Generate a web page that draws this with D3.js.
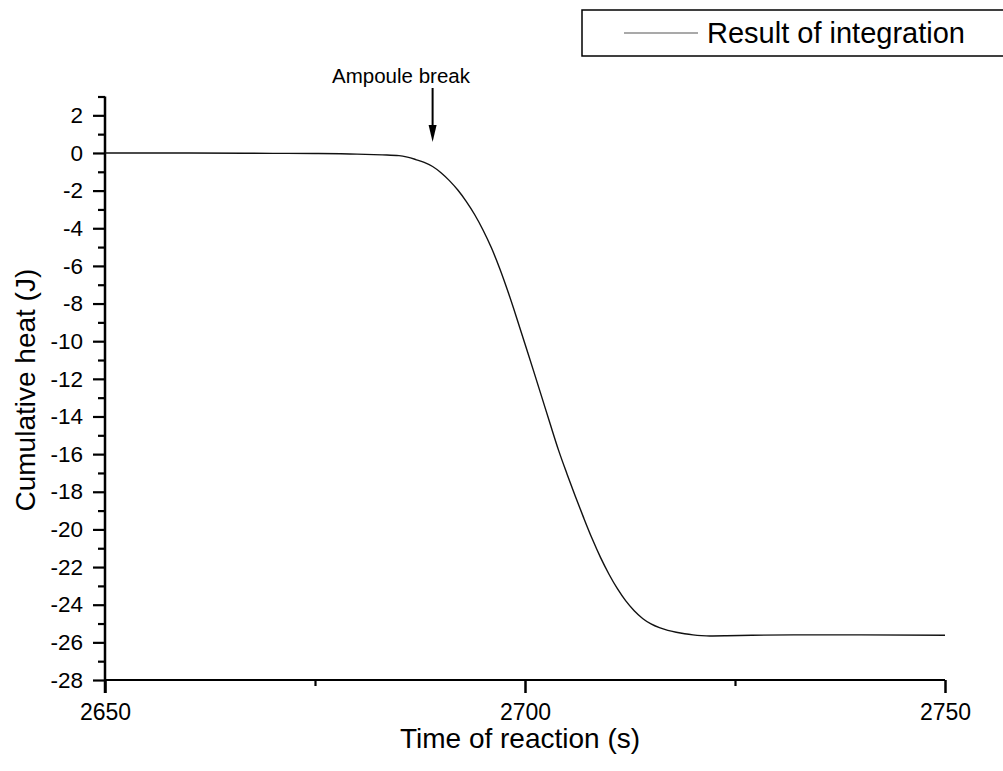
<!DOCTYPE html>
<html>
<head>
<meta charset="utf-8">
<script src="https://cdn.jsdelivr.net/npm/d3@7"></script>
<style>
  html, body { margin: 0; padding: 0; background: #fff; }
  svg { display: block; }
  svg text { font-family: "Liberation Sans", Arial, sans-serif; }
</style>
</head>
<body>
<svg id="chart" width="1003" height="771"></svg>
<script>
(() => {
  // cumulative heat (time in s, heat in J)
  const times = [2650, 2660, 2670, 2675, 2680, 2683, 2685, 2686, 2687, 2688, 2689, 2690,
    2691, 2692, 2693, 2694, 2695, 2696, 2697, 2698, 2699, 2700, 2701, 2702, 2703, 2704,
    2705, 2706, 2707, 2708, 2709, 2710, 2711, 2712, 2713, 2714, 2715, 2716, 2717, 2718,
    2719, 2720, 2721, 2722, 2724, 2727, 2732, 2740, 2750];
  const heat = [0, 0, -0.02, -0.03, -0.06, -0.1, -0.14, -0.22, -0.35, -0.5, -0.72, -1.05,
    -1.47, -1.97, -2.57, -3.27, -4.09, -5.04, -6.15, -7.4, -8.75, -10.15, -11.55, -12.97, -14.4, -15.8,
    -17.05, -18.25, -19.4, -20.5, -21.5, -22.38, -23.15, -23.8, -24.32, -24.73, -25.02, -25.22, -25.36, -25.46,
    -25.54, -25.6, -25.64, -25.66, -25.65, -25.62, -25.6, -25.6, -25.62];

  const xMajor = [2650, 2700, 2750];
  const xMinor = [2675, 2725];
  const yMajor = d3.range(-28, 3, 2);
  const yMinor = d3.range(-27, 4, 2);
  const breakTime = 2689;

  const svg = d3.select("#chart");

  const x = d3.scaleLinear().domain([2650, 2750]).range([105, 945]);
  const y = d3.scaleLinear().domain([-28, 3]).range([680, 96.5]);

  const fmt = d => String(d);
  const font = '"Liberation Sans", Arial, sans-serif';

  // x axis
  svg.append("g")
    .attr("transform", "translate(0,680)")
    .call(d3.axisBottom(x).tickValues(xMinor).tickSize(6).tickSizeOuter(0).tickFormat(""))
    .call(g => g.select(".domain").remove())
    .call(g => g.selectAll("line").attr("stroke", "#000").attr("stroke-width", 2.2));

  svg.append("g")
    .attr("transform", "translate(0,680)")
    .call(d3.axisBottom(x).tickValues(xMajor).tickSize(13).tickSizeOuter(0).tickPadding(11).tickFormat(fmt))
    .call(g => g.attr("font-family", font))
    .call(g => g.select(".domain").attr("d", `M${x(2650)},0H${x(2750)}`).attr("stroke", "#000").attr("stroke-width", 2.2))
    .call(g => g.selectAll("line").attr("stroke", "#000").attr("stroke-width", 2.5))
    .call(g => g.selectAll("text").attr("fill", "#000").style("font-size", "23px"));

  // y axis
  svg.append("g")
    .attr("transform", "translate(105,0)")
    .call(d3.axisLeft(y).tickValues(yMinor).tickSize(7).tickSizeOuter(0).tickFormat(""))
    .call(g => g.select(".domain").remove())
    .call(g => g.selectAll("line").attr("stroke", "#000").attr("stroke-width", 2.2));

  svg.append("g")
    .attr("transform", "translate(105,0)")
    .call(d3.axisLeft(y).tickValues(yMajor).tickSize(12).tickSizeOuter(0).tickPadding(10).tickFormat(fmt))
    .call(g => g.attr("font-family", font))
    .call(g => g.select(".domain").attr("d", `M0,${y(3)}V693`).attr("stroke", "#000").attr("stroke-width", 2.5))
    .call(g => g.selectAll("line").attr("stroke", "#000").attr("stroke-width", 2.2))
    .call(g => g.selectAll("text").attr("fill", "#000").style("font-size", "22.5px"));

  // axis titles
  svg.append("text")
    .attr("x", 520).attr("y", 748)
    .attr("text-anchor", "middle")
    .style("font-size", "28px")
    .text("Time of reaction (s)");

  svg.append("text")
    .attr("transform", `translate(35,${y(-12.6)}) rotate(-90)`)
    .attr("text-anchor", "middle")
    .style("font-size", "28px")
    .text("Cumulative heat (J)");

  // curve
  const pts = times.map((t, i) => ({ t, v: heat[i] }));
  svg.append("path")
    .datum(pts)
    .attr("fill", "none")
    .attr("stroke", "#111")
    .attr("stroke-width", 1.4)
    .attr("d", d3.line().curve(d3.curveMonotoneX).x(d => x(d.t)).y(d => y(d.v)));

  // ampoule break annotation
  const ax = x(breakTime);
  svg.append("line")
    .attr("x1", ax).attr("x2", ax)
    .attr("y1", 88).attr("y2", 128)
    .attr("stroke", "#000").attr("stroke-width", 2);
  svg.append("path")
    .attr("d", `M${ax - 4},125L${ax + 4},125L${ax},142Z`)
    .attr("fill", "#000");
  svg.append("text")
    .attr("x", 401).attr("y", 83)
    .attr("text-anchor", "middle")
    .style("font-size", "20.5px")
    .text("Ampoule break");

  // legend
  svg.append("rect")
    .attr("x", 582).attr("y", 10)
    .attr("width", 440).attr("height", 46)
    .attr("fill", "none")
    .attr("stroke", "#000").attr("stroke-width", 1.5);
  svg.append("line")
    .attr("x1", 624).attr("x2", 698)
    .attr("y1", 33).attr("y2", 33)
    .attr("stroke", "#555").attr("stroke-width", 1.2);
  svg.append("text")
    .attr("x", 707).attr("y", 43)
    .style("font-size", "29px")
    .text("Result of integration");
})();
</script>
</body>
</html>
